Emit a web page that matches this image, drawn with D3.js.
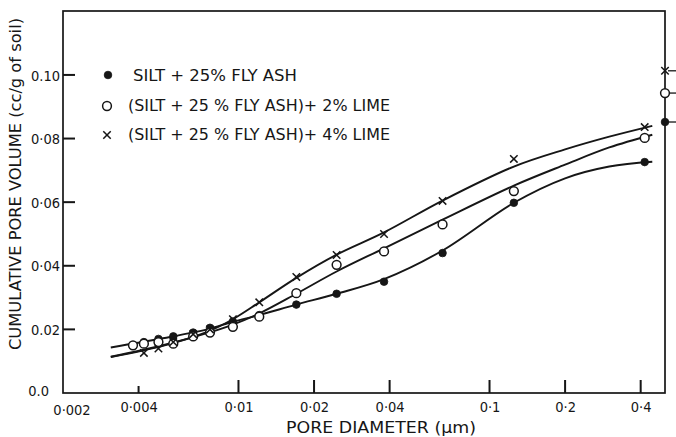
<!DOCTYPE html>
<html>
<head>
<meta charset="utf-8">
<script src="https://cdn.jsdelivr.net/npm/d3@7"></script>
<style>
  html, body { margin: 0; padding: 0; background: #fff; }
  svg { display: block; }
  text { font-family: "DejaVu Sans Condensed", "DejaVu Sans", sans-serif; fill: #161616; }
</style>
</head>
<body>
<svg id="chart" width="676" height="437"></svg>
<script>
// Measured pore diameters (µm) and cumulative pore volume (cc/g of soil)
const poreDiameter = [0.0038, 0.0042, 0.0048, 0.0055, 0.0066, 0.0077, 0.0095, 0.0121, 0.017, 0.0246, 0.038, 0.065, 0.125, 0.415];
const flyAsh      = [0.0148, 0.0160, 0.0170, 0.0178, 0.0190, 0.0205, 0.0225, 0.0245, 0.0278, 0.0312, 0.0350, 0.0440, 0.0598, 0.0726];
const flyAshLime2 = [0.0150, 0.0155, 0.0160, 0.0155, 0.0178, 0.0190, 0.0208, 0.0240, 0.0314, 0.0403, 0.0445, 0.0530, 0.0635, 0.0802];
const flyAshLime4 = [null,   0.0126, 0.0140, 0.0160, 0.0185, 0.0200, 0.0232, 0.0285, 0.0365, 0.0434, 0.0500, 0.0604, 0.0736, 0.0836];

// Smoothed curves drawn through each data set
const curveDiameter = [0.0031, 0.005, 0.0075, 0.0095, 0.0121, 0.017, 0.0246, 0.038, 0.065, 0.125, 0.2, 0.3, 0.445];
const curveFlyAsh      = [0.0143, 0.0172, 0.0200, 0.0224, 0.0245, 0.0278, 0.0312, 0.0358, 0.0448, 0.0598, 0.0675, 0.0712, 0.0727];
const curveFlyAshLime2 = [0.0114, 0.0150, 0.0188, 0.0215, 0.0250, 0.0312, 0.0382, 0.0455, 0.0545, 0.0652, 0.0718, 0.0772, 0.0812];
const curveFlyAshLime4 = [0.0113, 0.0148, 0.0192, 0.0232, 0.0285, 0.0362, 0.0435, 0.0505, 0.0605, 0.0712, 0.0766, 0.0806, 0.0840];

// Total pore volume of each mix, marked on the right-hand axis
const totalPoreVolume = [0.0852, 0.0943, 0.1013];

const legendLabels = [
  "SILT + 25% FLY ASH",
  "(SILT + 25 % FLY ASH)+ 2% LIME",
  "(SILT + 25 % FLY ASH)+ 4% LIME"
];
const markerKinds = ["dot", "ring", "cross"];

const xTickValues = [0.002, 0.004, 0.01, 0.02, 0.04, 0.1, 0.2, 0.4];
const xTickLabels = ["0·002", "0·004", "0·01", "0·02", "0·04", "0·1", "0·2", "0·4"];
const yTickValues = [0, 0.02, 0.04, 0.06, 0.08, 0.10];
const yTickLabels = ["0.0", "0.02", "0·04", "0·06", "0·08", "0.10"];

const svg = d3.select("#chart");
const plotLeft = 63, plotRight = 665, plotTop = 11, plotBottom = 393;
const ink = "#161616";
const fontStack = "'DejaVu Sans Condensed', 'DejaVu Sans', sans-serif";

const x = d3.scaleLog().domain([0.002, 0.5]).range([plotLeft, plotRight]);
const y = d3.scaleLinear().domain([0, 0.1201]).range([plotBottom, plotTop]);

// Frame
svg.append("rect")
  .attr("x", plotLeft).attr("y", plotTop)
  .attr("width", plotRight - plotLeft).attr("height", plotBottom - plotTop)
  .attr("fill", "none").attr("stroke", ink).attr("stroke-width", 1.7);

// X axis labels (from d3.axisBottom)
const xAxis = d3.axisBottom(x)
  .tickValues(xTickValues.slice(1))
  .tickSize(0).tickPadding(9)
  .tickFormat(d => xTickLabels[xTickValues.indexOf(d)]);
const gx = svg.append("g").attr("transform", `translate(0,${plotBottom})`).call(xAxis);
gx.select(".domain").remove();
gx.selectAll(".tick text").attr("dy", "0.71em")
  .attr("font-size", 14.5).attr("fill", ink)
  .style("font-family", fontStack);
svg.append("text").attr("x", 72).attr("y", 415).attr("text-anchor", "middle")
  .attr("font-size", 14.5).text(xTickLabels[0]);

// Inward tick marks on the x axis
svg.append("g").selectAll("rect")
  .data(xTickValues.slice(1))
  .join("rect")
  .attr("x", d => x(d) - 1)
  .attr("y", d => plotBottom - (d === 0.004 ? 7 : 13))
  .attr("width", 2)
  .attr("height", d => (d === 0.004 ? 7 : 13))
  .attr("fill", ink);

// Y axis labels (from d3.axisLeft)
const yAxis = d3.axisLeft(y)
  .tickValues(yTickValues)
  .tickSize(0).tickPadding(3)
  .tickFormat(d => yTickLabels[yTickValues.indexOf(d)]);
const gy = svg.append("g").attr("transform", `translate(${plotLeft},0)`).call(yAxis);
gy.select(".domain").remove();
gy.selectAll(".tick text").attr("font-size", 14.5).attr("fill", ink)
  .attr("x", d => d === 0 ? -14 : -3)
  .attr("dy", d => d === 0 ? "0.15em" : "0.35em")
  .style("font-family", fontStack);

// Inward tick marks on the y axis
svg.append("g").selectAll("rect")
  .data(yTickValues.filter(d => d > 0))
  .join("rect")
  .attr("x", plotLeft)
  .attr("y", d => y(d) - 1)
  .attr("width", 12).attr("height", 2)
  .attr("fill", ink);

// Axis titles
svg.append("text")
  .attr("x", 286).attr("y", 433)
  .attr("font-size", 15.5)
  .attr("textLength", 190).attr("lengthAdjust", "spacingAndGlyphs")
  .text("PORE  DIAMETER  (µm)");
svg.append("text")
  .attr("transform", "translate(21,350) rotate(-90)")
  .attr("font-size", 16)
  .attr("textLength", 332).attr("lengthAdjust", "spacingAndGlyphs")
  .text("CUMULATIVE  PORE  VOLUME  (cc/g of soil)");

// Marker drawing
function drawMarker(g, kind, cx, cy) {
  if (kind === "dot") {
    g.append("circle").attr("cx", cx).attr("cy", cy).attr("r", 3.8)
      .attr("fill", ink).attr("stroke", ink).attr("stroke-width", 0.8);
  } else if (kind === "ring") {
    g.append("circle").attr("cx", cx).attr("cy", cy).attr("r", 4.4)
      .attr("fill", "#fff").attr("stroke", ink).attr("stroke-width", 1.5);
  } else {
    g.append("path")
      .attr("transform", `translate(${cx},${cy})`)
      .attr("d", d3.symbol(d3.symbolX, 38)())
      .attr("fill", "none").attr("stroke", ink).attr("stroke-width", 1.5);
  }
}

// Fitted curves
const line = d3.line()
  .x(d => x(d[0])).y(d => y(d[1]))
  .curve(d3.curveCatmullRom.alpha(0.5));
const curveSets = [curveFlyAsh, curveFlyAshLime2, curveFlyAshLime4];
svg.append("g").selectAll("path")
  .data(curveSets)
  .join("path")
  .attr("d", vals => line(curveDiameter.map((d, i) => [d, vals[i]])))
  .attr("fill", "none").attr("stroke", ink).attr("stroke-width", 1.9);

// Data points
const pointSets = [flyAsh, flyAshLime2, flyAshLime4];
const gPts = svg.append("g");
pointSets.forEach((vals, s) => {
  vals.forEach((v, i) => {
    if (v == null) return;
    drawMarker(gPts, markerKinds[s], x(poreDiameter[i]), y(v));
  });
});

// Total pore volume marks on the right axis
const gTot = svg.append("g");
totalPoreVolume.forEach((v, s) => {
  gTot.append("line")
    .attr("x1", plotRight + 3).attr("x2", plotRight + 11)
    .attr("y1", y(v)).attr("y2", y(v))
    .attr("stroke", ink).attr("stroke-width", 1.3);
  drawMarker(gTot, markerKinds[s], plotRight, y(v));
});

// Legend
const legendRows = [
  { mx: 108, my: 75, tx: 133, ty: 81, len: 164 },
  { mx: 107, my: 106, tx: 128, ty: 111, len: 262 },
  { mx: 107, my: 135, tx: 128, ty: 140, len: 262 }
];
const gLeg = svg.append("g");
legendRows.forEach((r, i) => {
  drawMarker(gLeg, markerKinds[i], r.mx, r.my);
  gLeg.append("text")
    .attr("x", r.tx).attr("y", r.ty)
    .attr("font-size", 16)
    .attr("textLength", r.len).attr("lengthAdjust", "spacingAndGlyphs")
    .text(legendLabels[i]);
});
</script>
</body>
</html>
